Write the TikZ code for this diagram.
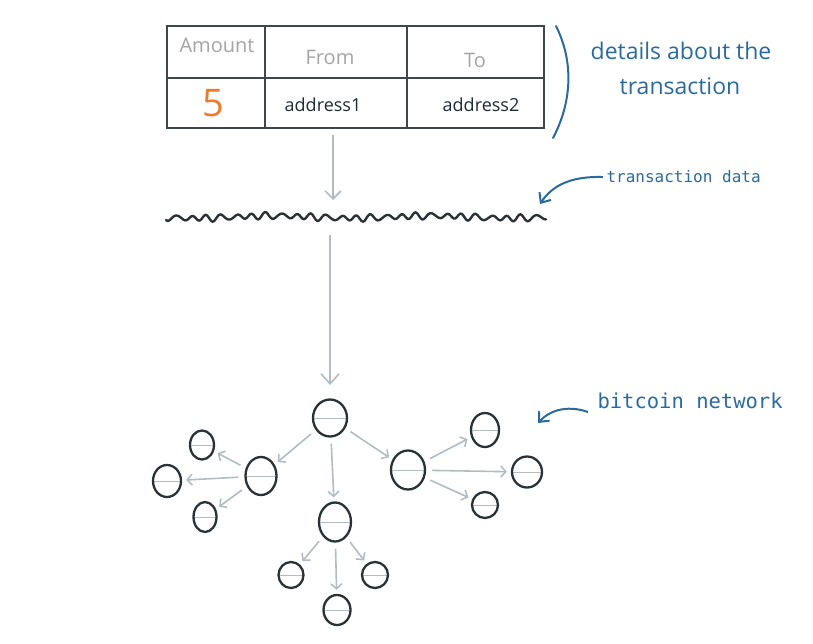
\documentclass[tikz,border=0pt]{standalone}
\usepackage{fontspec}
\setmainfont{Open Sans}
\newfontfamily\monofont{DejaVu Sans Mono}
\usetikzlibrary{arrows.meta,shapes.geometric}
\definecolor{inkblue}{HTML}{2A6A9C}
\definecolor{ink}{HTML}{2B3236}
\definecolor{conncol}{HTML}{B3BCC0}
\definecolor{headgray}{HTML}{A4A4A4}
\definecolor{fiveor}{HTML}{F07A2A}
\definecolor{addrcol}{HTML}{1C2A33}
\tikzset{
  tbl/.style={draw=ink!90, line width=1.7pt},
  hdr/.style={text=headgray, font=\fontsize{20}{22}\selectfont, anchor=base},
  addr/.style={text=addrcol, font=\fontsize{18}{20}\selectfont, anchor=base},
  note/.style={text=inkblue, font=\fontsize{23}{26}\selectfont, anchor=base},
  mono/.style={text=inkblue, anchor=base west},
  netnode/.style={ellipse, draw=ink, line width=2.3pt, inner sep=0pt,
    path picture={\draw[conncol, line width=0.8pt] (path picture bounding box.west) -- (path picture bounding box.east);}},
  conn/.style={draw=conncol, line width=1.6pt, -{Straight Barb[length=5pt,width=11pt]}, shorten <=6pt, shorten >=4pt},
  bigarrow/.style={draw=conncol, line width=1.6pt, -{Straight Barb[length=10pt,width=18pt]}},
  callout/.style={draw=inkblue, line width=2pt, -{Straight Barb[length=8pt,width=14pt]}},
}
\begin{document}
\begin{tikzpicture}[x=1pt,y=-1pt]
\useasboundingbox (0,0) rectangle (813,644);
% table
\draw[tbl] (167,26) rectangle (544,128);
\draw[tbl] (167,78) -- (544,78);
\draw[tbl] (265,26) -- (265,128);
\draw[tbl] (407,26) -- (407,128);
\node[hdr] (hAmount) at (217,53) {Amount};
\node[hdr] (hFrom) at (330,65) {From};
\node[hdr] (hTo) at (475,68) {To};
\node[text=fiveor, font=\fontsize{38}{40}\selectfont, anchor=base] (five) at (213,117) {5};
\node[addr] (addr1) at (323,112) {address1};
\node[addr] (addr2) at (481,112) {address2};
% brace
\coordinate (bt) at (556,26);
\coordinate (bb) at (553,138);
\draw[inkblue, line width=2pt, line cap=round] (bt) .. controls (573,60) and (573,100) .. (bb);
\node[note] (det1) at (681,60) {details about the};
\node[note] (det2) at (680,95) {transaction};
% top arrow
\coordinate (tabbot) at (333,135);
\coordinate (wavetop) at (333,200);
\draw[draw=conncol, line width=1.6pt, -{Straight Barb[length=8pt,width=16pt]}] (tabbot) -- (wavetop);
% wave
\draw[ink, line width=2.4pt, line cap=round, line join=round]
  plot[domain=166:546, samples=240, smooth] (\x, {217 + 2.6*sin(24*\x) + 1.8*sin(7*\x+40)*sin(24*\x+60) + 1.2*sin(2.3*\x)});
% transaction data label
\node[mono, font=\monofont\fontsize{16}{18}\selectfont] (tdata) at (603,183) {transaction data};
\coordinate (tdtip) at (540,204);
\draw[callout] (tdata.west) .. controls (570,176) and (552,186) .. (tdtip);
% main down arrow
\coordinate (wavebot) at (330,235);
\coordinate (nettop) at (330,385);
\draw[bigarrow] (wavebot) -- (nettop);
% bitcoin network label
\node[mono, font=\monofont\fontsize{20.5}{22}\selectfont] (bnet) at (594,408) {bitcoin network};
\coordinate (bntip) at (538,423);
\draw[callout] ([xshift=-6pt,yshift=-4pt]bnet.base west) .. controls (565,404) and (548,412) .. (bntip);
% network nodes
\node[netnode, minimum width=34pt, minimum height=37pt] (n0) at (330,418) {};
\node[netnode, minimum width=31pt, minimum height=38pt] (na) at (261,476) {};
\node[netnode, minimum width=32pt, minimum height=39pt] (nb) at (335,522) {};
\node[netnode, minimum width=34pt, minimum height=39pt] (nc) at (408,470) {};
\node[netnode, minimum width=24pt, minimum height=29pt] (na1) at (202,445) {};
\node[netnode, minimum width=28pt, minimum height=32pt] (na2) at (167,481) {};
\node[netnode, minimum width=23pt, minimum height=30pt] (na3) at (205,517) {};
\node[netnode, minimum width=28pt, minimum height=34pt] (nc1) at (485,430) {};
\node[netnode, minimum width=30pt, minimum height=31pt] (nc2) at (527,472) {};
\node[netnode, minimum width=26pt, minimum height=26pt] (nc3) at (485,505) {};
\node[netnode, minimum width=25pt, minimum height=26pt] (nb1) at (291,575) {};
\node[netnode, minimum width=27pt, minimum height=30pt] (nb2) at (337,610) {};
\node[netnode, minimum width=26pt, minimum height=26pt] (nb3) at (375,575) {};
% connectors
\draw[conn] (n0) -- (na);
\draw[conn] (n0) -- (nb);
\draw[conn] (n0) -- (nc);
\draw[conn] (na) -- (na1);
\draw[conn] (na) -- (na2);
\draw[conn] (na) -- (na3);
\draw[conn] (nc) -- (nc1);
\draw[conn] (nc) -- (nc2);
\draw[conn] (nc) -- (nc3);
\draw[conn] (nb) -- (nb1);
\draw[conn] (nb) -- (nb2);
\draw[conn] (nb) -- (nb3);
\end{tikzpicture}
\end{document}
